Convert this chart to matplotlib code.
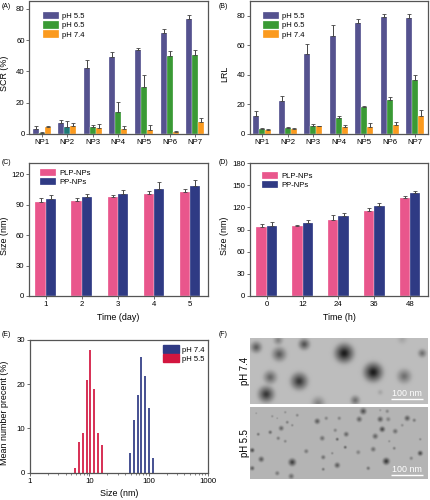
import numpy as np
import matplotlib
matplotlib.use("Agg")
import matplotlib.pyplot as plt

plt.rcParams['font.family'] = ['Liberation Sans', 'DejaVu Sans']

W, H = 431, 500

np_labels = ['NP1', 'NP2', 'NP3', 'NP4', 'NP5', 'NP6', 'NP7']
ph_labels = ['pH 5.5', 'pH 6.5', 'pH 7.4']

scr_55 = [3.2, 7, 42.5, 49.5, 53.5, 64.5, 73.5]
scr_65 = [0.8, 4.3, 4.3, 14.2, 30.3, 49.7, 50.8]
scr_74 = [4.3, 5.2, 3.8, 3, 2.5, 1.2, 7.5]
scr_55_err = [2, 1.7, 4.5, 2.8, 1.5, 2.5, 2.5]
scr_65_err = [0.4, 3.7, 1.7, 6.1, 7.2, 3.3, 2.7]
scr_74_err = [0.9, 1.8, 2.4, 2, 3, 0.8, 3]

lrl_55 = [12, 22.3, 54.3, 66.5, 75, 79.5, 78.2]
lrl_65 = [3.3, 4.2, 5.3, 10.8, 18, 23, 36.5]
lrl_74 = [2.5, 3.2, 5.3, 4.5, 5, 6, 12]
lrl_55_err = [3.5, 3.4, 6.7, 7, 2.5, 1.8, 3.3]
lrl_65_err = [0.7, 0.8, 1.2, 1.5, 1, 2.3, 3.2]
lrl_74_err = [0.7, 0.8, 0.4, 1.7, 2.5, 2.3, 4]

days = ['1', '2', '3', '4', '5']
day_plp = [93, 94, 97.5, 100, 102.5]
day_pp = [95.5, 97.5, 100.5, 105.5, 108.5]
day_plp_err = [3.5, 3, 1.5, 3, 2.5]
day_pp_err = [3.5, 3, 3.5, 6.5, 5.5]

hours = ['0', '12', '24', '36', '48']
hour_plp = [94, 95, 103, 115, 132]
hour_pp = [95, 98.5, 108.5, 121.5, 140]
hour_plp_err = [3.5, 1.5, 6.5, 3.5, 4]
hour_pp_err = [4.5, 4.5, 4, 4, 2]

size_74 = [48.8, 56.9, 65.7, 75.7, 88.4, 102, 117.6]
count_74 = [4.5, 11.9, 17.5, 26.2, 21.9, 14.6, 3.3]
size_55 = [5.79, 6.68, 7.8, 9.1, 10.4, 11.8, 13.9, 16.1]
count_55 = [1, 6.9, 8.9, 21, 27.7, 19, 9, 6.3]

# particles in the micrographs: x, y, radius, darkness (image pixels)
tem_74 = [(6, 9, 6, .5), (28, 2, 5, .3), (29, 16, 7.5, .5), (54, 6, 6, .55),
          (94, 15, 10, .85), (123, 34, 10, .85), (154, 38, 7.5, .4),
          (172, 15, 4.5, .4), (20, 39, 7, .45), (49, 43, 9, .7), (16, 56, 8.5, .7),
          (105, 62, 5, .4), (68, 65, 7, .3), (130, 54, 3, .12), (152, 1, 5, .12)]
tem_55 = [(113, 4, 3.5, .55), (67, 14, 3, .5), (109, 12, 3, .45), (130, 12, 3, .5),
          (138, 12, 2.5, .3), (157, 11, 3, .5), (164, 13, 2, .35), (132, 22, 3, .6),
          (145, 24, 2.7, .4), (125, 29, 3, .45), (31, 21, 2.7, .45), (20, 25, 2, .45),
          (8, 27, 1.7, .4), (28, 31, 2, .35), (35, 34, 1.7, .3), (37, 15, 1.7, .35),
          (42, 18, 1.4, .3), (47, 8, 1.7, .3), (22, 9, 1.4, .25), (27, 11, 1, .25),
          (6, 6, 1, .25), (35, 5, 1.4, .25), (76, 11, 2, .3), (89, 11, 2, .3),
          (85, 23, 2, .3), (96, 27, 2.7, .45), (72, 31, 2.7, .4), (87, 32, 1.7, .5),
          (95, 40, 1.7, .5), (56, 44, 2.4, .35), (82, 46, 1.4, .3), (108, 45, 2.4, .3),
          (123, 42, 2.7, .4), (144, 41, 1.7, .35), (170, 46, 2.7, .6), (161, 51, 2, .3),
          (136, 54, 3.7, .7), (11, 52, 3, .5), (42, 55, 4, .65), (73, 50, 2.4, .4),
          (87, 58, 3, .5), (118, 61, 2, .4), (73, 62, 1.7, .4), (27, 66, 2.4, .35),
          (41, 69, 3, .4), (2, 43, 2.4, .6), (2, 61, 2.4, .5), (152, 18, 1.7, .25),
          (170, 32, 1.4, .3), (139, 34, 1.4, .25), (130, 3, 1.4, .2), (137, 4, 2, .3)]

purple = '#55528f'
green = '#3a9a35'
orange = '#fb9a1e'
pink = '#e9568c'
navy = '#2f3a84'
red = '#d3163f'
grey = '#555555'


def make_axes(left, top, right, bottom):
    ax = fig.add_axes([left / W, 1 - bottom / H, (right - left) / W, (bottom - top) / H])
    for s in ax.spines.values():
        s.set_color(grey)
        s.set_linewidth(0.9)
    ax.tick_params(labelsize=5.6, length=2, width=0.6, pad=1.5, color=grey)
    return ax


def place_labels(ax, ylabel, ylabel_x, xlabel=None, xlabel_y=None):
    pos = ax.get_position()
    ax.set_ylabel(ylabel, fontsize=6.4)
    # the y labels sit a little below the middle of the axes
    ax.yaxis.set_label_coords((ylabel_x / W - pos.x0) / pos.width, 0.455)
    if xlabel:
        ax.set_xlabel(xlabel, fontsize=6.4)
        ax.xaxis.set_label_coords(0.5, ((1 - xlabel_y / H) - pos.y0) / pos.height)
        ax.xaxis.label.set_va('center')


def grouped_bars(ax, labels, series, errs, colors, names, width):
    x = np.arange(len(labels)) + 1
    n = len(series)
    for i in range(n):
        off = (i - (n - 1) / 2) * width
        ax.bar(x + off, series[i], width, color=colors[i], edgecolor='#ffffff', linewidth=0.2,
               label=names[i], yerr=[np.zeros(len(errs[i])), errs[i]],
               error_kw=dict(ecolor='#444444', elinewidth=0.7, capsize=1.2, capthick=0.6))
    ax.set_xticks(x)
    ax.set_xticklabels(labels)
    ax.set_xlim(0.53, len(labels) + 0.5)


def add_legend(ax, x, y):
    ax.legend(loc='upper left', bbox_to_anchor=(x, y), frameon=False, fontsize=5.5, borderpad=0,
              borderaxespad=0, handlelength=2.15, handleheight=1.1, labelspacing=0.12,
              handletextpad=0.4)


def tem_image(particles, nx, ny, base):
    xx = np.arange(nx * 2)[None, :] / 2.0
    yy = np.arange(ny * 2)[:, None] / 2.0
    img = np.full((ny * 2, nx * 2), base)
    for px, py, r, d in particles:
        dist2 = (xx - px) ** 2 + (yy - py) ** 2
        shape = 0.5 * np.exp(-(dist2 / r ** 2) ** 2) + 0.5 * np.exp(-dist2 / (0.5 * r) ** 2)
        img = img * (1 - d * shape)
    return img


fig = plt.figure(figsize=(W / 100, H / 100), dpi=100)

# (A)
ax = make_axes(29.5, 1, 208, 134)
grouped_bars(ax, np_labels, [scr_55, scr_65, scr_74], [scr_55_err, scr_65_err, scr_74_err],
             [purple, green, orange], ph_labels, 0.235)
ax.patches[8].set_facecolor('#1d7a78')
ax.set_ylim(0, 85)
ax.set_yticks([0, 20, 40, 60, 80])
place_labels(ax, 'SCR (%)', 9)
add_legend(ax, 0.074, 0.917)

# (B)
ax = make_axes(250, 1, 428, 134)
grouped_bars(ax, np_labels, [lrl_55, lrl_65, lrl_74], [lrl_55_err, lrl_65_err, lrl_74_err],
             [purple, green, orange], ph_labels, 0.235)
ax.set_ylim(0, 90)
ax.set_yticks([0, 20, 40, 60, 80])
place_labels(ax, 'LRL', 229)
add_legend(ax, 0.071, 0.917)

# (C)
ax = make_axes(29, 163, 208, 296)
grouped_bars(ax, days, [day_plp, day_pp], [day_plp_err, day_pp_err], [pink, navy],
             ['PLP-NPs', 'PP-NPs'], 0.29)
ax.set_ylim(0, 131)
ax.set_yticks([0, 30, 60, 90, 120])
place_labels(ax, 'Size (nm)', 9, 'Time (day)', 317.5)
add_legend(ax, 0.06, 0.955)

# (D)
ax = make_axes(250, 163, 428, 296)
grouped_bars(ax, hours, [hour_plp, hour_pp], [hour_plp_err, hour_pp_err], [pink, navy],
             ['PLP-NPs', 'PP-NPs'], 0.29)
ax.set_ylim(0, 180)
ax.set_yticks([0, 30, 60, 90, 120, 150, 180])
place_labels(ax, 'Size (nm)', 229, 'Time (h)', 317.5)
add_legend(ax, 0.067, 0.935)

# (E)
ax = make_axes(30, 340, 208, 472.7)
ax.vlines(size_74, 0, count_74, color=navy, linewidth=1.25, label='pH 7.4')
ax.vlines(size_55, 0, count_55, color=red, linewidth=1.25, label='pH 5.5')
ax.set_xscale('log')
ax.set_xlim(1, 1000)
ax.set_ylim(0, 30)
ax.set_yticks([0, 10, 20, 30])
ax.set_xticks([1, 10, 100, 1000])
ax.set_xticklabels(['1', '10', '100', '1000'])
ax.tick_params(axis='x', which='minor', length=1.2, width=0.5, color=grey)
place_labels(ax, 'Mean number precent (%)', 9, 'Size (nm)', 494)
handles = [plt.Rectangle((0, 0), 1, 1, color=navy), plt.Rectangle((0, 0), 1, 1, color=red)]
ax.legend(handles, ['pH 7.4', 'pH 5.5'], loc='upper left', bbox_to_anchor=(0.745, 0.96),
          frameon=False, fontsize=5.5, borderpad=0, borderaxespad=0, handlelength=2.2,
          handleheight=1.1, labelspacing=0.12, handletextpad=0.4)

# (F)
for top, bottom, parts, base, name in [(338, 404, tem_74, 0.74, 'pH 7.4'),
                                       (407, 479, tem_55, 0.71, 'pH 5.5')]:
    ax = make_axes(250, top, 428, bottom)
    ax.imshow(tem_image(parts, 178, bottom - top, base), cmap='gray', vmin=0, vmax=1,
              aspect='auto', interpolation='bilinear', extent=(0, 178, bottom - top, 0))
    ax.axis('off')
    bar_y = bottom - top - 5 if name == 'pH 7.4' else bottom - top - 4
    ax.plot([141.5, 173], [bar_y, bar_y], color='white', linewidth=1.0, solid_capstyle='butt')
    ax.text(157, bar_y - 1, '100 nm', color='white', fontsize=6.4, ha='center', va='bottom')
    fig.text(245 / W, 1 - (top + bottom) / 2 / H, name, rotation=90, fontsize=6.9,
             ha='center', va='center')

for name, px, py in [('(A)', 2, 6), ('(B)', 219, 6), ('(C)', 2, 162), ('(D)', 219, 162),
                     ('(E)', 2, 334), ('(F)', 219, 334)]:
    fig.text(px / W, 1 - py / H, name, fontsize=5, ha='left', va='center')

fig.savefig('out.png', dpi=100)
